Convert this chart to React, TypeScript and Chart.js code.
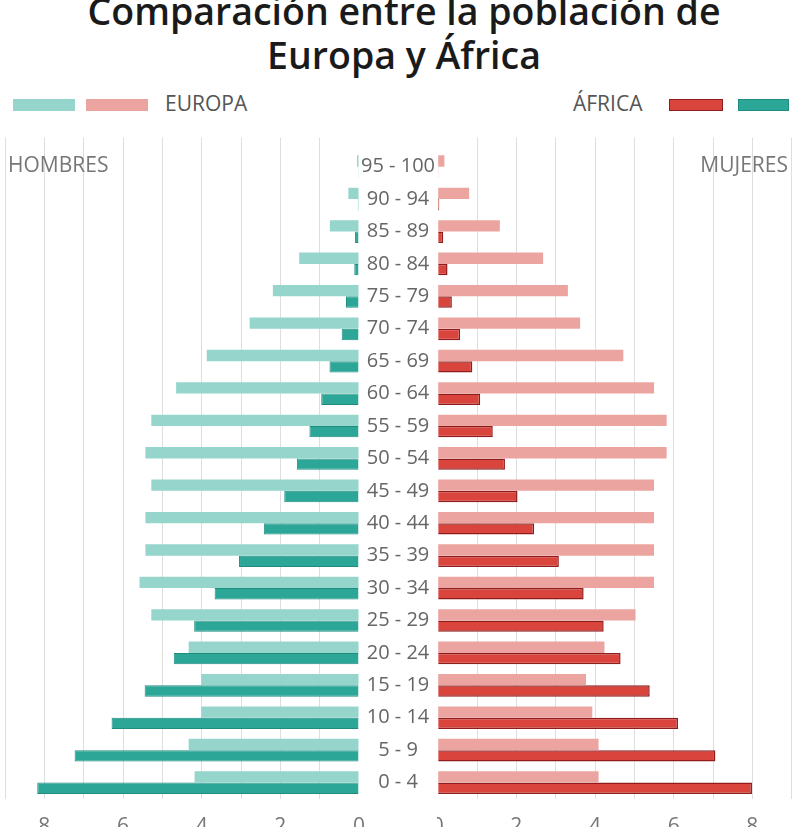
import React, { useEffect, useRef } from 'react';
import { Chart, registerables } from 'chart.js';

Chart.register(...registerables);

// ---- data (top to bottom) ----
const ageGroups = [
  '95 - 100', '90 - 94', '85 - 89', '80 - 84', '75 - 79', '70 - 74', '65 - 69',
  '60 - 64', '55 - 59', '50 - 54', '45 - 49', '40 - 44', '35 - 39', '30 - 34',
  '25 - 29', '20 - 24', '15 - 19', '10 - 14', '5 - 9', '0 - 4',
];
const europaHombres = [0.05, 0.27, 0.74, 1.52, 2.19, 2.78, 3.87, 4.65, 5.28, 5.43, 5.28, 5.43, 5.43, 5.58, 5.28, 4.33, 4.01, 4.01, 4.33, 4.18];
const africaHombres = [0.02, 0.03, 0.1, 0.12, 0.33, 0.44, 0.75, 0.96, 1.26, 1.58, 1.9, 2.42, 3.05, 3.67, 4.19, 4.71, 5.45, 6.29, 7.23, 8.18];
const europaMujeres = [0.17, 0.8, 1.58, 2.68, 3.31, 3.62, 4.72, 5.5, 5.82, 5.82, 5.5, 5.5, 5.5, 5.5, 5.03, 4.24, 3.77, 3.93, 4.09, 4.09];
const africaMujeres = [0.02, 0.04, 0.14, 0.25, 0.36, 0.57, 0.88, 1.08, 1.4, 1.71, 2.03, 2.45, 3.08, 3.71, 4.22, 4.65, 5.39, 6.11, 7.06, 7.99];
const axisMin = 0;
const axisMax = 9;
const axisStep = 1;
const titleLines = ['Comparación entre la población de', 'Europa y África'];
const legendEuropa = 'EUROPA';
const legendAfrica = 'ÁFRICA';
const labelHombres = 'HOMBRES';
const labelMujeres = 'MUJERES';

const FONT = "'Open Sans', sans-serif";
const C_EU_M = '#95d5cc';
const C_AF_M = '#2ba697';
const C_AF_M_B = '#1f8c7e';
const C_EU_F = '#eca4a1';
const C_AF_F = '#d9443d';
const C_AF_F_B = '#8f1d1d';
const GRID = '#dedede';

const CANVAS_TOP = 120;
const CANVAS_H = 736;

function buildOptions(reverse: boolean, showY: boolean, padLeft: number, padRight: number): any {
  const zeroPad = (s: any) => {
    s.paddingLeft = 0;
    s.paddingRight = 0;
    s.paddingTop = 0;
    s.paddingBottom = 0;
  };
  return {
    indexAxis: 'y',
    animation: false,
    responsive: false,
    maintainAspectRatio: false,
    devicePixelRatio: 1,
    layout: { padding: { top: 17.5, left: padLeft, right: padRight, bottom: 0 } },
    plugins: {
      legend: { display: false },
      tooltip: { enabled: false },
      title: { display: false },
    },
    scales: {
      x: {
        type: 'linear',
        position: 'bottom',
        reverse,
        min: axisMin,
        max: axisMax,
        border: { display: false },
        grid: {
          drawTicks: false,
          lineWidth: 1,
          color: (ctx: any) => (ctx.tick && ctx.tick.value === 0 ? 'rgba(0,0,0,0)' : GRID),
        },
        ticks: {
          stepSize: axisStep,
          autoSkip: false,
          maxRotation: 0,
          padding: 16,
          color: '#777',
          font: { family: FONT, size: 21 },
          callback: (v: any) => (Number(v) % 2 === 0 ? String(v) : ''),
        },
        afterFit: zeroPad,
      },
      xTop: {
        type: 'linear',
        position: 'top',
        reverse,
        min: axisMin,
        max: axisMax,
        border: { display: false },
        grid: {
          drawOnChartArea: false,
          drawTicks: true,
          tickLength: 13,
          color: (ctx: any) => (ctx.tick && ctx.tick.value === 0 ? 'rgba(0,0,0,0)' : GRID),
        },
        ticks: { display: false, stepSize: axisStep },
        afterFit: zeroPad,
      },
      y: {
        type: 'category',
        position: 'right',
        display: showY,
        offset: true,
        border: { display: false },
        grid: { display: false, drawTicks: false },
        ticks: {
          autoSkip: false,
          crossAlign: 'center',
          padding: 2,
          color: '#666',
          font: { family: FONT, size: 20 },
        },
        afterFit: (s: any) => {
          if (showY) s.width = 78;
          s.paddingTop = 0;
          s.paddingBottom = 0;
        },
      },
    },
  };
}

export default function App() {
  const leftRef = useRef<HTMLCanvasElement | null>(null);
  const rightRef = useRef<HTMLCanvasElement | null>(null);

  useEffect(() => {
    if (!leftRef.current || !rightRef.current) return;
    const left = new Chart(leftRef.current, {
      type: 'bar',
      data: {
        labels: ageGroups,
        datasets: [
          {
            label: 'Europa hombres',
            data: europaHombres,
            backgroundColor: C_EU_M,
            borderWidth: 0,
            categoryPercentage: 0.7,
            barPercentage: 1,
          },
          {
            label: 'África hombres',
            data: africaHombres,
            backgroundColor: C_AF_M,
            borderColor: C_AF_M_B,
            borderWidth: 1,
            categoryPercentage: 0.7,
            barPercentage: 1,
          },
        ],
      },
      options: buildOptions(true, true, 5, 0),
    } as any);
    const right = new Chart(rightRef.current, {
      type: 'bar',
      data: {
        labels: ageGroups,
        datasets: [
          {
            label: 'Europa mujeres',
            data: europaMujeres,
            backgroundColor: C_EU_F,
            borderWidth: 0,
            categoryPercentage: 0.7,
            barPercentage: 1,
          },
          {
            label: 'África mujeres',
            data: africaMujeres,
            backgroundColor: C_AF_F,
            borderColor: C_AF_F_B,
            borderWidth: 1.5,
            categoryPercentage: 0.7,
            barPercentage: 1,
          },
        ],
      },
      options: buildOptions(false, false, 0.7, 5.3),
    } as any);
    return () => {
      left.destroy();
      right.destroy();
    };
  }, []);

  const textBase: React.CSSProperties = {
    position: 'absolute',
    fontFamily: FONT,
    whiteSpace: 'nowrap',
  };
  const box = (left: number, width: number, bg: string, border?: string): React.CSSProperties => ({
    position: 'absolute',
    left,
    top: 99,
    width,
    height: 12,
    background: bg,
    boxSizing: 'border-box',
    border: border ? `1.5px solid ${border}` : 'none',
  });

  return (
    <div
      style={{
        position: 'absolute',
        left: 0,
        top: 0,
        width: 797,
        height: 827,
        overflow: 'hidden',
        background: '#fff',
      }}
    >
      <div
        style={{
          ...textBase,
          left: 0,
          top: -11.5,
          width: 808,
          textAlign: 'center',
          fontSize: 37.5,
          lineHeight: '44px',
          fontWeight: 600,
          color: '#1a1a1a',
        }}
      >
        {titleLines.map((t) => (
          <div key={t}>{t}</div>
        ))}
      </div>

      <div style={box(13, 62, C_EU_M)} />
      <div style={box(86, 62, C_EU_F)} />
      <div style={{ ...textBase, left: 165, top: 91, fontSize: 21, lineHeight: '25px', color: '#555' }}>{legendEuropa}</div>
      <div style={{ ...textBase, left: 573, top: 91, fontSize: 21, lineHeight: '25px', color: '#555' }}>{legendAfrica}</div>
      <div style={box(669, 54, C_AF_F, C_AF_F_B)} />
      <div style={box(738, 51, C_AF_M, C_AF_M_B)} />

      <canvas
        ref={leftRef}
        width={437}
        height={CANVAS_H}
        style={{ position: 'absolute', left: 0, top: CANVAS_TOP, width: 437, height: CANVAS_H }}
      />
      <canvas
        ref={rightRef}
        width={360}
        height={CANVAS_H}
        style={{ position: 'absolute', left: 437, top: CANVAS_TOP, width: 360, height: CANVAS_H }}
      />

      <div style={{ ...textBase, left: 8, top: 150.5, fontSize: 21, lineHeight: '26px', color: '#777' }}>{labelHombres}</div>
      <div style={{ ...textBase, right: 9, top: 150.5, fontSize: 21, lineHeight: '26px', color: '#777' }}>{labelMujeres}</div>
    </div>
  );
}
